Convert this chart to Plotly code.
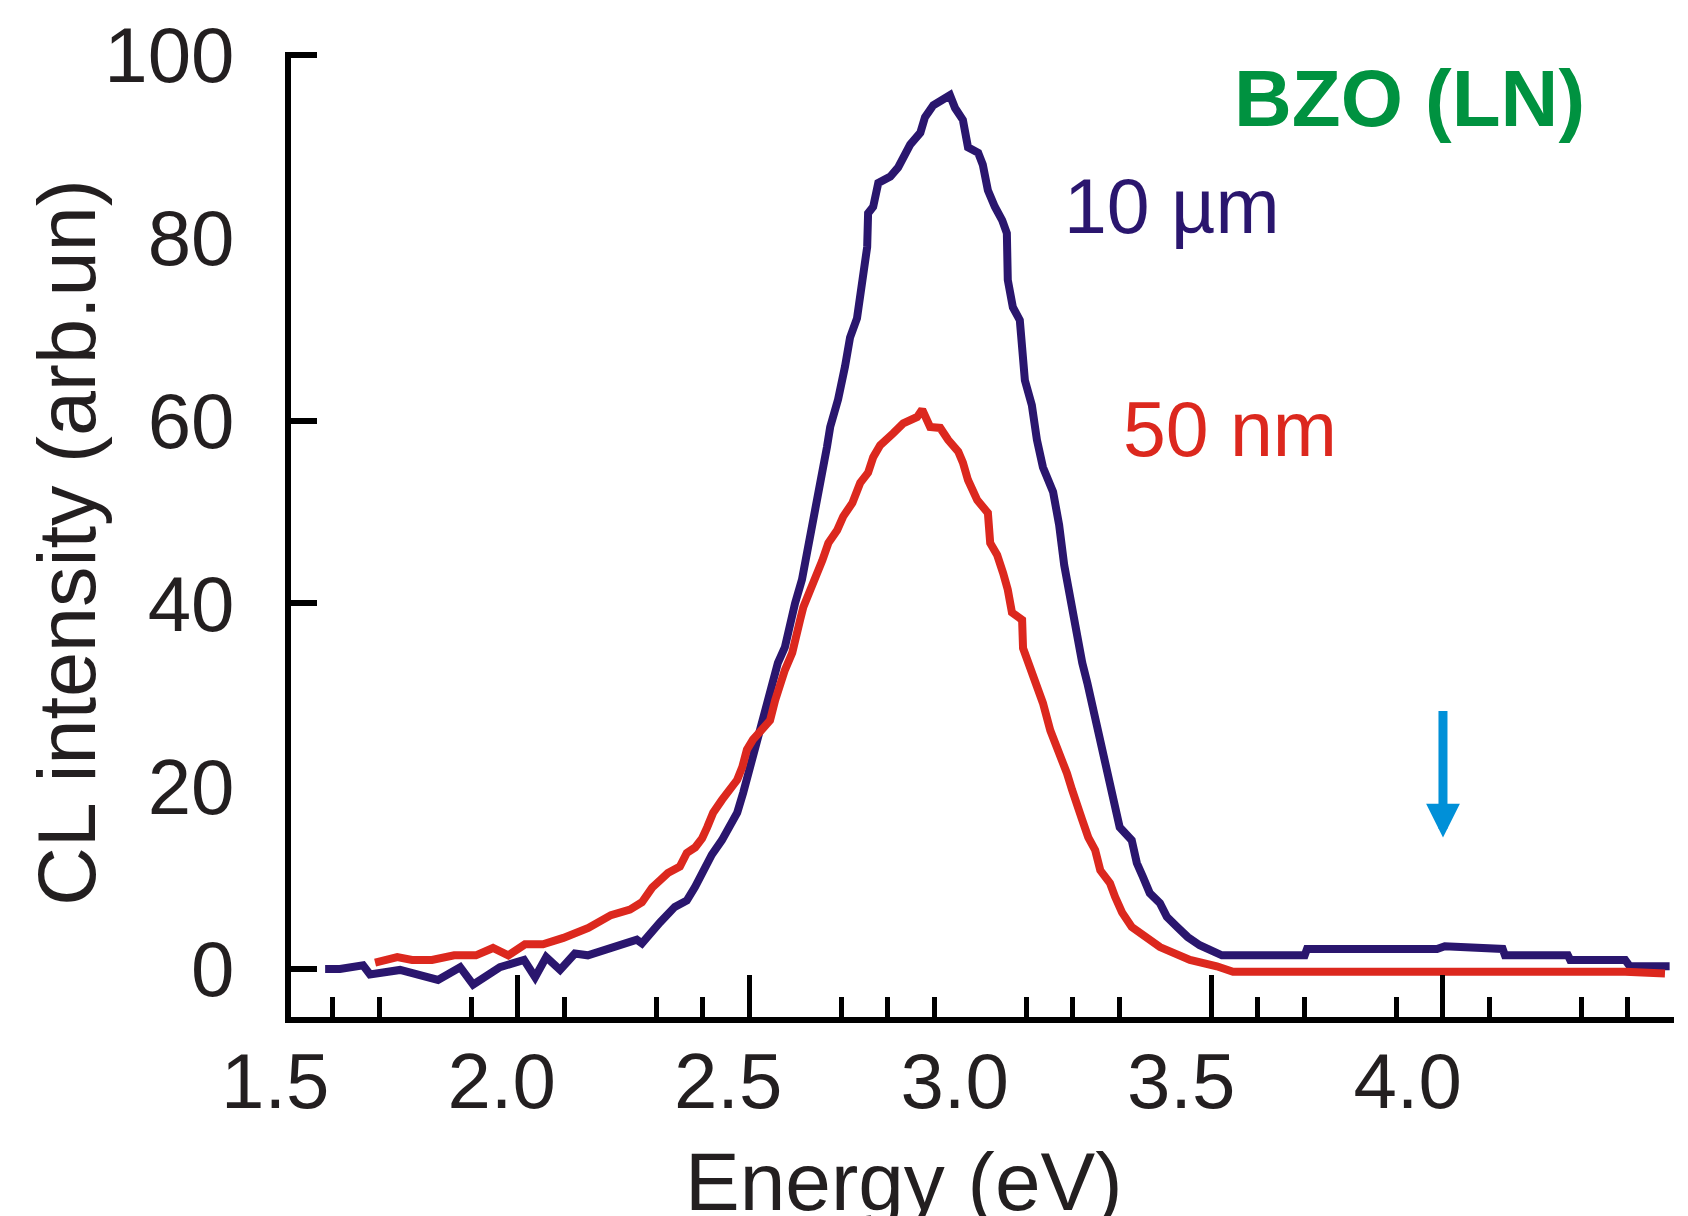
import plotly.graph_objects as go

# ---------------- data ----------------
energy_10um = [1.583, 1.615, 1.665, 1.680, 1.745, 1.827, 1.875, 1.903, 1.961, 2.013,
               2.037, 2.061, 2.091, 2.123, 2.151, 2.208, 2.257, 2.268, 2.279, 2.307,
               2.339, 2.365, 2.383, 2.400, 2.419, 2.441, 2.458, 2.474, 2.487, 2.502,
               2.512, 2.528, 2.541, 2.551, 2.562, 2.577, 2.588, 2.599, 2.614, 2.625,
               2.636, 2.649, 2.659, 2.668, 2.675, 2.692, 2.707, 2.718, 2.733, 2.744,
               2.755, 2.757, 2.768, 2.779, 2.805, 2.822, 2.837, 2.848, 2.870, 2.880,
               2.898, 2.919, 2.934, 2.945, 2.962, 2.973, 2.995, 3.005, 3.016, 3.031,
               3.047, 3.057, 3.059, 3.070, 3.085, 3.096, 3.111, 3.122, 3.135, 3.157,
               3.170, 3.181, 3.194, 3.207, 3.220, 3.231, 3.243, 3.254, 3.267, 3.278,
               3.291, 3.301, 3.327, 3.338, 3.351, 3.366, 3.388, 3.403, 3.425, 3.448,
               3.474, 3.496, 3.522, 3.701, 3.706, 3.987, 4.004, 4.129, 4.134, 4.270,
               4.275, 4.394, 4.404, 4.490]
intensity_10um = [0.0, 0.0, 0.4, -0.6, -0.1, -1.2, 0.2, -1.7, 0.2, 1.0,
                  -0.9, 1.3, -0.1, 1.7, 1.5, 2.3, 3.2, 2.8, 3.5, 5.1,
                  6.8, 7.5, 9.0, 10.8, 12.5, 14.1, 15.5, 17.1, 19.3, 22.1,
                  24.0, 26.5, 29.1, 31.6, 33.5, 35.2, 38.0, 40.0, 42.6, 45.6,
                  48.4, 51.3, 53.7, 57.1, 59.3, 62.3, 65.9, 69.1, 71.2, 74.6,
                  79.0, 82.7, 83.4, 86.0, 86.7, 87.7, 89.4, 90.2, 91.5, 93.2,
                  94.5, 95.3, 95.6, 94.2, 92.9, 89.9, 89.3, 88.0, 85.2, 83.4,
                  81.9, 80.5, 75.4, 72.4, 71.0, 64.4, 61.7, 57.9, 54.9, 52.2,
                  48.6, 44.2, 40.4, 36.8, 33.5, 31.3, 28.7, 26.1, 23.2, 20.7,
                  18.5, 15.5, 14.1, 11.6, 10.1, 8.3, 7.2, 5.7, 4.6, 3.5,
                  2.6, 2.1, 1.5, 1.5, 2.2, 2.2, 2.5, 2.2, 1.5, 1.5,
                  1.0, 1.0, 0.3, 0.3]

energy_50nm = [1.691, 1.739, 1.771, 1.814, 1.862, 1.909, 1.946, 1.979, 2.015, 2.054,
               2.098, 2.152, 2.201, 2.242, 2.268, 2.290, 2.307, 2.324, 2.350, 2.365,
               2.383, 2.398, 2.409, 2.422, 2.441, 2.458, 2.474, 2.485, 2.495, 2.508,
               2.545, 2.556, 2.567, 2.577, 2.593, 2.599, 2.610, 2.617, 2.628, 2.643,
               2.658, 2.671, 2.690, 2.703, 2.723, 2.740, 2.757, 2.768, 2.783, 2.811,
               2.833, 2.863, 2.874, 2.891, 2.913, 2.930, 2.952, 2.962, 2.973, 2.993,
               3.016, 3.021, 3.036, 3.049, 3.059, 3.068, 3.090, 3.092, 3.107, 3.122,
               3.135, 3.151, 3.172, 3.187, 3.198, 3.209, 3.220, 3.233, 3.248, 3.259,
               3.280, 3.291, 3.306, 3.327, 3.360, 3.388, 3.416, 3.453, 3.511, 3.546,
               4.394, 4.480]
intensity_50nm = [0.7, 1.3, 1.0, 1.0, 1.5, 1.5, 2.3, 1.5, 2.7, 2.7,
                  3.4, 4.5, 5.9, 6.5, 7.3, 8.9, 9.7, 10.5, 11.2, 12.7,
                  13.3, 14.3, 15.5, 17.1, 18.5, 19.6, 20.7, 22.1, 24.0, 25.1,
                  27.2, 29.4, 31.3, 32.7, 34.6, 36.3, 38.2, 39.6, 40.9, 42.9,
                  44.7, 46.6, 48.0, 49.5, 51.0, 53.2, 54.3, 56.0, 57.3, 58.6,
                  59.7, 60.4, 61.2, 59.3, 59.2, 57.9, 56.6, 55.4, 53.5, 51.3,
                  49.9, 46.6, 45.3, 43.3, 41.5, 39.0, 38.2, 35.1, 33.0, 30.9,
                  29.1, 26.1, 23.6, 21.4, 19.6, 18.2, 16.3, 14.4, 13.0, 10.8,
                  9.4, 7.9, 6.2, 4.6, 3.5, 2.4, 1.8, 1.0, 0.3, -0.3,
                  -0.3, -0.5]

x_label_values = [1.5, 2.0, 2.5, 3.0, 3.5, 4.0]
x_label_text = ["1.5", "2.0", "2.5", "3.0", "3.5", "4.0"]
x_major_ticks = [2.0, 2.5, 3.5, 4.0, 4.5]
x_minor_ticks = [1.6, 1.7, 1.9, 2.1, 2.3, 2.4, 2.7, 2.8, 2.9, 3.1, 3.2, 3.3,
                 3.6, 3.7, 3.9, 4.1, 4.3, 4.4]
y_label_values = [0, 20, 40, 60, 80, 100]
y_tick_marks = [0, 40, 60, 100]

arrow_energy = 4.0
arrow_tip = 14.4
arrow_tail = 28.4

# ---------------- styling ----------------
BLUE = "#2a166e"
RED = "#dc281e"
GREEN = "#009240"
ARROW = "#0090d8"
INK = "#231f20"
FONT = "Liberation Sans, Arial, sans-serif"

X_RANGE = [1.5092, 4.4995]
Y_RANGE = [-5.25, 100.33]

fig = go.Figure()
fig.add_trace(go.Scatter(x=energy_10um, y=intensity_10um, mode="lines",
                         line=dict(color=BLUE, width=8), showlegend=False,
                         hoverinfo="skip"))
fig.add_trace(go.Scatter(x=energy_50nm, y=intensity_50nm, mode="lines",
                         line=dict(color=RED, width=8), showlegend=False,
                         hoverinfo="skip"))
# empty traces to activate overlay axes (labels / tick marks)
fig.add_trace(go.Scatter(x=[], y=[], xaxis="x2", yaxis="y", showlegend=False))
fig.add_trace(go.Scatter(x=[], y=[], xaxis="x", yaxis="y2", showlegend=False))

fig.update_layout(
    width=1688, height=1216,
    margin=dict(l=291, r=14, t=52, b=199),
    paper_bgcolor="white", plot_bgcolor="white",
    font=dict(family=FONT, color=INK, size=78),
    xaxis=dict(range=X_RANGE, showgrid=False, zeroline=False,
               showline=True, linewidth=6, linecolor="black",
               tickmode="array", tickvals=x_major_ticks, showticklabels=False,
               ticks="inside", ticklen=42, tickwidth=5, tickcolor="black",
               minor=dict(tickmode="array", tickvals=x_minor_ticks,
                          ticks="inside", ticklen=20, tickwidth=5,
                          tickcolor="black")),
    xaxis2=dict(overlaying="x", anchor="y", side="bottom",
                range=[1.4995, 4.5527], showgrid=False, zeroline=False,
                showline=False, ticks="",
                tickmode="array", tickvals=x_label_values, ticktext=x_label_text,
                tickfont=dict(size=78, family=FONT, color=INK),
                ticklabelshift=-16, ticklabelstandoff=12),
    yaxis=dict(range=Y_RANGE, showgrid=False, zeroline=False,
               showline=True, linewidth=6, linecolor="black",
               tickmode="array", tickvals=y_label_values, ticks="",
               tickfont=dict(size=78, family=FONT, color=INK),
               ticklabelstandoff=35),
    yaxis2=dict(overlaying="y", anchor="x", side="left",
                range=Y_RANGE, showgrid=False, zeroline=False,
                showline=False, showticklabels=False,
                tickmode="array", tickvals=y_tick_marks,
                ticks="inside", ticklen=26, tickwidth=6, tickcolor="black"),
)

fig.add_annotation(text="Energy (eV)", xref="paper", yref="paper",
                   x=0.4432, y=-0.1212, xanchor="center", yanchor="top",
                   showarrow=False, font=dict(size=82, family=FONT, color=INK))
fig.add_annotation(text="CL intensity (arb.un)", xref="paper", yref="paper",
                   x=-0.162, y=0.4915, xanchor="center", yanchor="middle",
                   textangle=-90, showarrow=False,
                   font=dict(size=81, family=FONT, color=INK))
fig.add_annotation(text="<b>BZO (LN)</b>", xref="paper", yref="paper",
                   x=0.8084, y=0.9518, xanchor="center", yanchor="middle",
                   showarrow=False, font=dict(size=80, family=FONT, color=GREEN))
fig.add_annotation(text="10 µm", xref="paper", yref="paper",
                   x=0.6367, y=0.8404, xanchor="center", yanchor="middle",
                   showarrow=False, font=dict(size=77, family=FONT, color=BLUE))
fig.add_annotation(text="50 nm", xref="paper", yref="paper",
                   x=0.6793, y=0.6093, xanchor="center", yanchor="middle",
                   showarrow=False, font=dict(size=77, family=FONT, color=RED))
fig.add_annotation(text="", x=arrow_energy, y=arrow_tip, xref="x", yref="y",
                   ax=arrow_energy, ay=arrow_tail, axref="x", ayref="y",
                   showarrow=True, arrowhead=2, arrowsize=0.75, arrowwidth=9,
                   arrowcolor=ARROW)

fig.write_html("out.html", config={"displayModeBar": False},
               post_script="document.body.style.margin='0';")
